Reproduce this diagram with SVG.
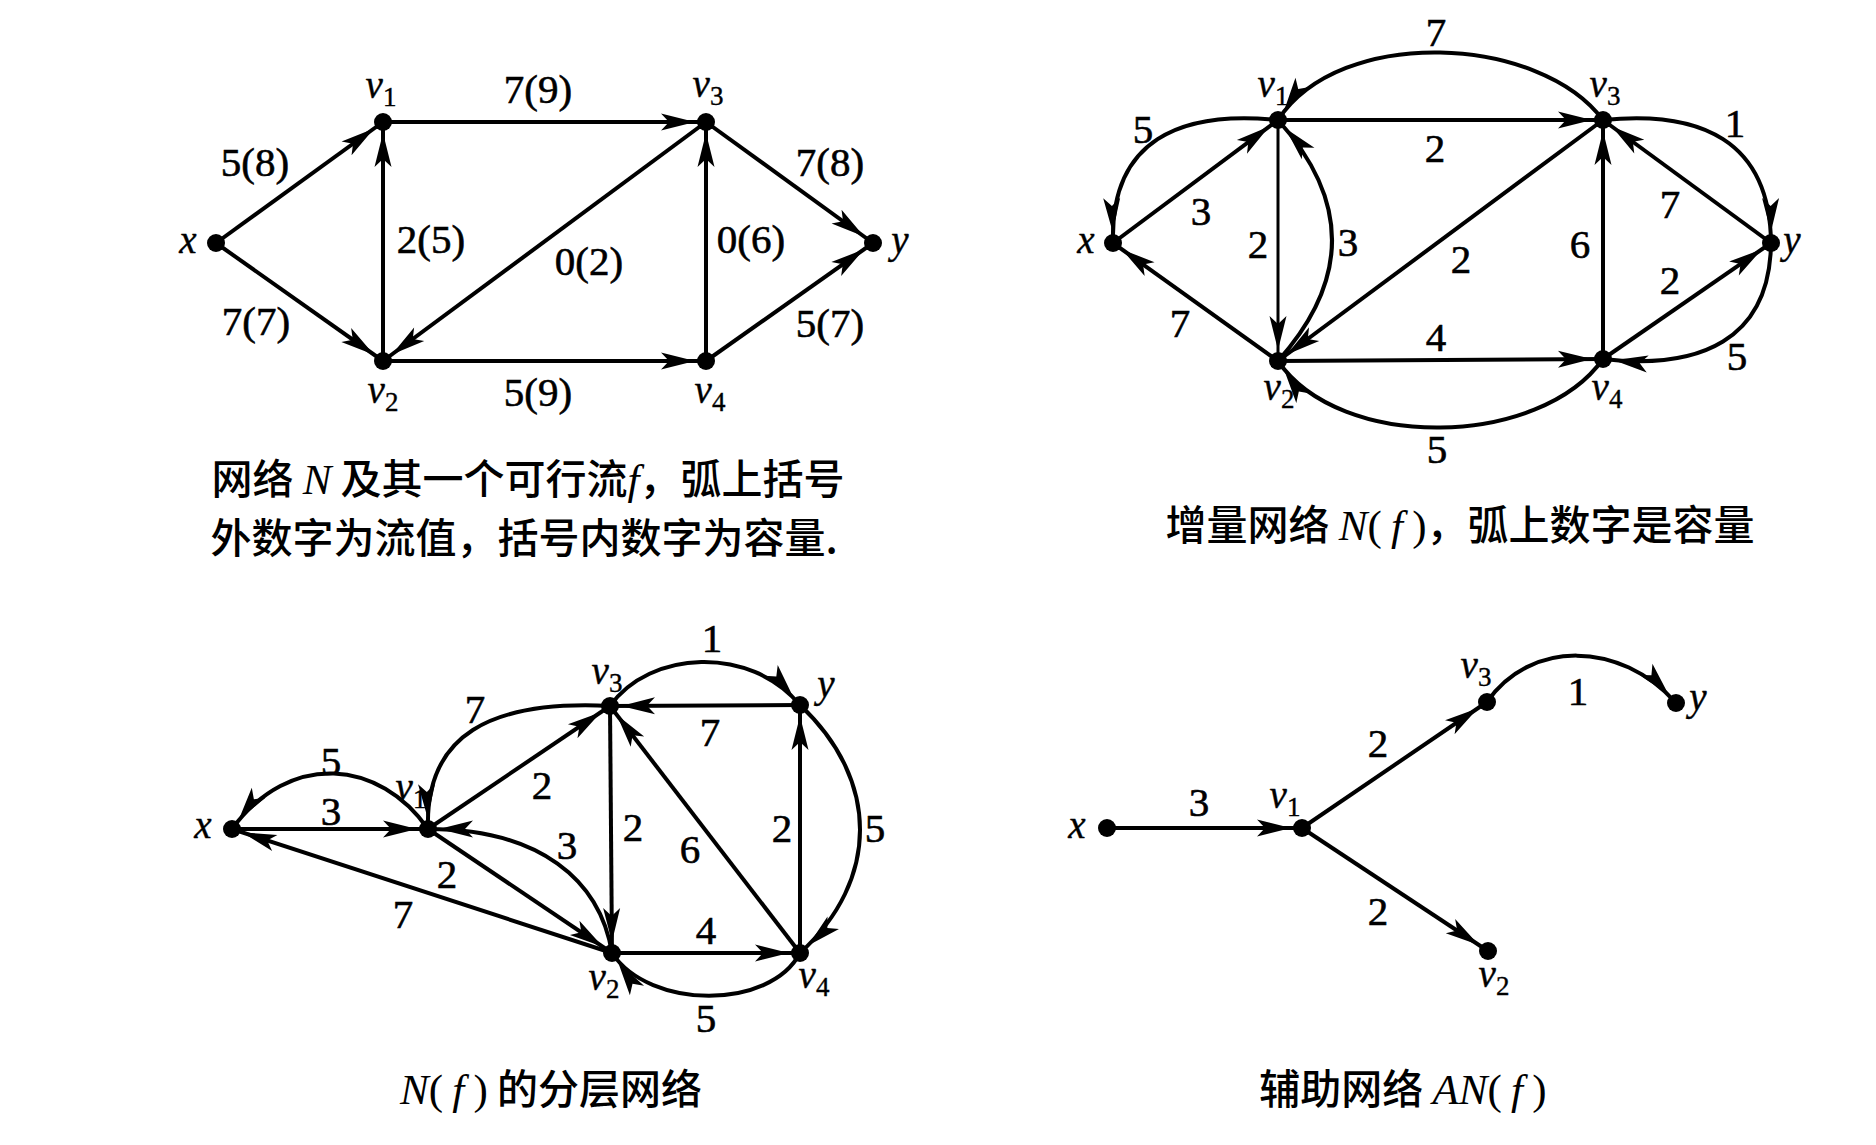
<svg xmlns="http://www.w3.org/2000/svg" width="1876" height="1145" viewBox="0 0 1876 1145">
<style>
.e{fill:none;stroke:#000;stroke-width:4;marker-end:url(#ah)}
.n{fill:#000}
.lab{font-family:"Liberation Serif",serif;font-size:41px;text-anchor:middle;fill:#000;stroke:#000;stroke-width:0.6}
.nl{font-family:"Liberation Serif",serif;font-style:italic;font-size:39px;text-anchor:middle;fill:#000;stroke:#000;stroke-width:0.4}
.sub{font-style:normal;font-size:27px}
.cap{font-family:"Noto Sans CJK SC",sans-serif;font-size:41px;text-anchor:middle;font-weight:500;fill:#000}
.it{font-family:"Liberation Serif",serif;font-style:italic;font-size:43px}
.rm{font-family:"Liberation Serif",serif;font-size:43px}
</style>
<defs>
<marker id="ah" markerUnits="userSpaceOnUse" markerWidth="40" markerHeight="20" refX="11" refY="0" orient="auto" overflow="visible">
<path d="M0,0 L-34,-8.5 L-26,0 L-34,8.5 Z" fill="#000"/>
</marker>
</defs>
<rect width="1876" height="1145" fill="#fff"/>

<!-- Panel 1 -->
<g id="p1-edges">
<path class="e" d="M216,243 L383,122"/>
<path class="e" d="M216,243 L383,361"/>
<path class="e" d="M383,122 L706,122"/>
<path class="e" d="M383,361 L383,122"/>
<path class="e" d="M706,122 L383,361"/>
<path class="e" d="M383,361 L706,361"/>
<path class="e" d="M706,361 L706,122"/>
<path class="e" d="M706,122 L873,243"/>
<path class="e" d="M706,361 L873,243"/>
</g>
<g id="p1-elabels">
<text class="lab" x="255" y="176">5(8)</text>
<text class="lab" x="538" y="103">7(9)</text>
<text class="lab" x="830" y="176">7(8)</text>
<text class="lab" x="431" y="253">2(5)</text>
<text class="lab" x="589" y="275">0(2)</text>
<text class="lab" x="751" y="253">0(6)</text>
<text class="lab" x="256" y="335">7(7)</text>
<text class="lab" x="830" y="337">5(7)</text>
<text class="lab" x="538" y="406">5(9)</text>
</g>
<g id="p1-x"><circle class="n" cx="216" cy="243" r="9"/><text class="nl" x="188" y="253">x</text></g>
<g id="p1-v1"><circle class="n" cx="383" cy="122" r="9"/><text class="nl" x="381" y="98">v<tspan class="sub" dy="8">1</tspan></text></g>
<g id="p1-v3"><circle class="n" cx="706" cy="122" r="9"/><text class="nl" x="708" y="97">v<tspan class="sub" dy="8">3</tspan></text></g>
<g id="p1-v2"><circle class="n" cx="383" cy="361" r="9"/><text class="nl" x="383" y="403">v<tspan class="sub" dy="8">2</tspan></text></g>
<g id="p1-v4"><circle class="n" cx="706" cy="361" r="9"/><text class="nl" x="710" y="403">v<tspan class="sub" dy="8">4</tspan></text></g>
<g id="p1-y"><circle class="n" cx="873" cy="243" r="9"/><text class="nl" x="900" y="253">y</text></g>
<g id="cap1">
<text class="cap" x="528" y="494">网络 <tspan class="it">N</tspan> 及其一个可行流<tspan class="it">f</tspan>，弧上括号</text>
<text class="cap" x="524" y="553">外数字为流值，括号内数字为容量.</text>
</g>

<!-- Panel 2 -->
<g id="p2-edges">
<path class="e" d="M1278,120 L1603,120"/>
<path class="e" d="M1278,120 L1278,361" style="stroke-width:3"/>
<path class="e" d="M1278,361 Q1386,240 1278,120"/>
<path class="e" d="M1113,243 L1278,120"/>
<path class="e" d="M1278,120 C1180,110 1110,140 1113,243"/>
<path class="e" d="M1278,361 L1113,243"/>
<path class="e" d="M1603,120 C1540,35 1340,25 1278,120"/>
<path class="e" d="M1603,120 L1278,361"/>
<path class="e" d="M1278,361 L1603,359"/>
<path class="e" d="M1603,359 C1540,448 1340,452 1278,361"/>
<path class="e" d="M1603,359 L1603,120"/>
<path class="e" d="M1603,120 C1700,110 1770,140 1771,243"/>
<path class="e" d="M1771,243 L1603,120"/>
<path class="e" d="M1603,359 L1771,243"/>
<path class="e" d="M1771,243 C1770,340 1700,370 1603,359"/>
</g>
<g id="p2-elabels">
<text class="lab" x="1436" y="46">7</text>
<text class="lab" x="1143" y="143">5</text>
<text class="lab" x="1435" y="162">2</text>
<text class="lab" x="1735" y="137">1</text>
<text class="lab" x="1201" y="225">3</text>
<text class="lab" x="1258" y="258">2</text>
<text class="lab" x="1348" y="256">3</text>
<text class="lab" x="1461" y="273">2</text>
<text class="lab" x="1580" y="258">6</text>
<text class="lab" x="1670" y="218">7</text>
<text class="lab" x="1670" y="294">2</text>
<text class="lab" x="1180" y="337">7</text>
<text class="lab" x="1436" y="351">4</text>
<text class="lab" x="1737" y="370">5</text>
<text class="lab" x="1437" y="463">5</text>
</g>
<g id="p2-x"><circle class="n" cx="1113" cy="243" r="9"/><text class="nl" x="1086" y="253">x</text></g>
<g id="p2-v1"><circle class="n" cx="1278" cy="120" r="9"/><text class="nl" x="1273" y="97">v<tspan class="sub" dy="8">1</tspan></text></g>
<g id="p2-v3"><circle class="n" cx="1603" cy="120" r="9"/><text class="nl" x="1605" y="97">v<tspan class="sub" dy="8">3</tspan></text></g>
<g id="p2-v2"><circle class="n" cx="1278" cy="361" r="9"/><text class="nl" x="1279" y="400">v<tspan class="sub" dy="8">2</tspan></text></g>
<g id="p2-v4"><circle class="n" cx="1603" cy="359" r="9"/><text class="nl" x="1607" y="400">v<tspan class="sub" dy="8">4</tspan></text></g>
<g id="p2-y"><circle class="n" cx="1771" cy="243" r="9"/><text class="nl" x="1792" y="253">y</text></g>
<g id="cap2">
<text class="cap" x="1460" y="540">增量网络 <tspan class="it">N</tspan><tspan class="rm">(</tspan> <tspan class="it">f</tspan> <tspan class="rm">)</tspan>，弧上数字是容量</text>
</g>

<!-- Panel 3 -->
<g id="p3-edges">
<path class="e" d="M610,706 C650,650 750,645 800,705"/>
<path class="e" d="M800,705 L610,706"/>
<path class="e" d="M610,706 C490,700 425,735 428,829"/>
<path class="e" d="M428,829 L610,706"/>
<path class="e" d="M428,829 C380,760 290,750 232,829"/>
<path class="e" d="M232,829 L428,829"/>
<path class="e" d="M612,953 L232,829"/>
<path class="e" d="M428,829 L612,953"/>
<path class="e" d="M612,953 C600,880 540,829 428,829"/>
<path class="e" d="M610,706 L612,953"/>
<path class="e" d="M800,953 L610,706"/>
<path class="e" d="M800,953 L800,705"/>
<path class="e" d="M800,705 C880,780 880,880 800,953"/>
<path class="e" d="M612,953 L800,953"/>
<path class="e" d="M800,953 C770,1010 650,1010 612,953"/>
</g>
<g id="p3-elabels">
<text class="lab" x="712" y="652">1</text>
<text class="lab" x="710" y="746">7</text>
<text class="lab" x="475" y="723">7</text>
<text class="lab" x="542" y="799">2</text>
<text class="lab" x="331" y="775">5</text>
<text class="lab" x="331" y="825">3</text>
<text class="lab" x="403" y="928">7</text>
<text class="lab" x="447" y="888">2</text>
<text class="lab" x="567" y="859">3</text>
<text class="lab" x="633" y="841">2</text>
<text class="lab" x="690" y="863">6</text>
<text class="lab" x="782" y="842">2</text>
<text class="lab" x="875" y="842">5</text>
<text class="lab" x="706" y="944">4</text>
<text class="lab" x="706" y="1032">5</text>
</g>
<g id="p3-x"><circle class="n" cx="232" cy="829" r="9"/><text class="nl" x="203" y="838">x</text></g>
<g id="p3-v1"><circle class="n" cx="428" cy="829" r="9"/><text class="nl" x="411" y="800">v<tspan class="sub" dy="8">1</tspan></text></g>
<g id="p3-v3"><circle class="n" cx="610" cy="706" r="9"/><text class="nl" x="607" y="684">v<tspan class="sub" dy="8">3</tspan></text></g>
<g id="p3-y"><circle class="n" cx="800" cy="705" r="9"/><text class="nl" x="826" y="697">y</text></g>
<g id="p3-v2"><circle class="n" cx="612" cy="953" r="9"/><text class="nl" x="604" y="990">v<tspan class="sub" dy="8">2</tspan></text></g>
<g id="p3-v4"><circle class="n" cx="800" cy="953" r="9"/><text class="nl" x="814" y="988">v<tspan class="sub" dy="8">4</tspan></text></g>
<g id="cap3">
<text class="cap" x="551" y="1104"><tspan class="it">N</tspan><tspan class="rm">(</tspan> <tspan class="it">f</tspan> <tspan class="rm">)</tspan> 的分层网络</text>
</g>

<!-- Panel 4 -->
<g id="p4-edges">
<path class="e" d="M1107,828 L1302,828"/>
<path class="e" d="M1302,828 L1487,702"/>
<path class="e" d="M1302,828 L1488,951"/>
<path class="e" d="M1487,702 C1530,640 1620,640 1676,703"/>
</g>
<g id="p4-elabels">
<text class="lab" x="1199" y="816">3</text>
<text class="lab" x="1378" y="757">2</text>
<text class="lab" x="1378" y="925">2</text>
<text class="lab" x="1578" y="705">1</text>
</g>
<g id="p4-x"><circle class="n" cx="1107" cy="828" r="9"/><text class="nl" x="1077" y="838">x</text></g>
<g id="p4-v1"><circle class="n" cx="1302" cy="828" r="9"/><text class="nl" x="1285" y="808">v<tspan class="sub" dy="8">1</tspan></text></g>
<g id="p4-v3"><circle class="n" cx="1487" cy="702" r="9"/><text class="nl" x="1476" y="678">v<tspan class="sub" dy="8">3</tspan></text></g>
<g id="p4-y"><circle class="n" cx="1676" cy="703" r="9"/><text class="nl" x="1698" y="710">y</text></g>
<g id="p4-v2"><circle class="n" cx="1488" cy="951" r="9"/><text class="nl" x="1494" y="987">v<tspan class="sub" dy="8">2</tspan></text></g>
<g id="cap4">
<text class="cap" x="1403" y="1104">辅助网络 <tspan class="it">AN</tspan><tspan class="rm">(</tspan> <tspan class="it">f</tspan> <tspan class="rm">)</tspan></text>
</g>
</svg>
